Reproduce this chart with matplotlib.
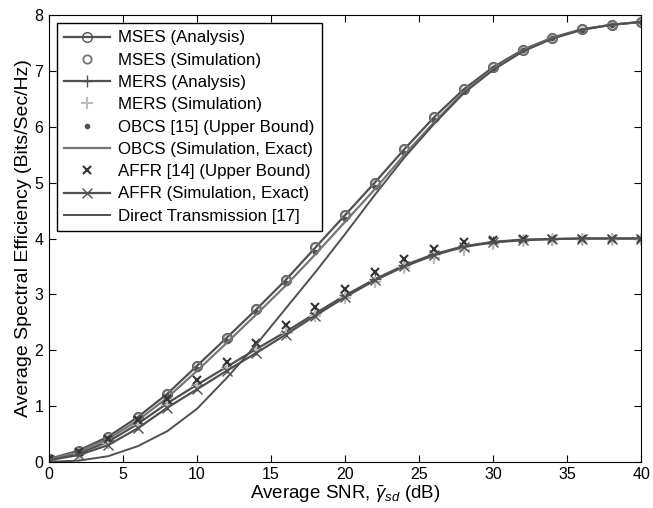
import numpy as np
import matplotlib.pyplot as plt

plt.rcParams['font.family'] = ['Liberation Sans', 'DejaVu Sans']
plt.rcParams['mathtext.fontset'] = 'custom'
plt.rcParams['mathtext.rm'] = 'Liberation Sans'
plt.rcParams['mathtext.it'] = 'Liberation Sans:italic'

# SNR grid (dB)
snr = [0, 2, 4, 6, 8, 10, 12, 14, 16, 18, 20, 22, 24, 26, 28, 30, 32, 34, 36, 38, 40]

# values
mses_ana = [0.05, 0.2, 0.45, 0.8, 1.22, 1.72, 2.22, 2.73, 3.26, 3.84, 4.42, 5.0, 5.6, 6.17, 6.67, 7.07, 7.38, 7.6, 7.75, 7.83, 7.88]
mses_sim = [0.05, 0.2, 0.45, 0.8, 1.22, 1.72, 2.22, 2.73, 3.26, 3.84, 4.42, 5.0, 5.6, 6.17, 6.67, 7.07, 7.38, 7.6, 7.75, 7.83, 7.88]
mers_ana = [0.04, 0.15, 0.36, 0.68, 1.05, 1.38, 1.7, 2.02, 2.33, 2.66, 2.98, 3.27, 3.52, 3.72, 3.86, 3.94, 3.98, 3.99, 4.0, 4.0, 4.0]
mers_sim = [0.04, 0.14, 0.34, 0.66, 1.02, 1.36, 1.68, 2.0, 2.3, 2.62, 2.94, 3.22, 3.47, 3.65, 3.8, 3.9, 3.95, 3.98, 3.99, 4.0, 4.0]
obcs_ub = [0.05, 0.19, 0.43, 0.77, 1.18, 1.67, 2.17, 2.68, 3.2, 3.76, 4.35, 4.93, 5.54, 6.12, 6.64, 7.05, 7.37, 7.59, 7.74, 7.83, 7.88]
obcs_sim = [0.04, 0.18, 0.41, 0.74, 1.15, 1.63, 2.13, 2.64, 3.16, 3.72, 4.3, 4.88, 5.5, 6.08, 6.62, 7.04, 7.36, 7.59, 7.74, 7.83, 7.88]
affr_ub = [0.05, 0.18, 0.4, 0.74, 1.13, 1.46, 1.78, 2.12, 2.45, 2.78, 3.1, 3.4, 3.63, 3.82, 3.93, 3.97, 3.99, 4.0, 4.0, 4.0, 4.0]
affr_sim = [0.03, 0.12, 0.3, 0.6, 0.97, 1.3, 1.63, 1.95, 2.28, 2.62, 2.95, 3.25, 3.5, 3.7, 3.85, 3.93, 3.97, 3.99, 4.0, 4.0, 4.0]
direct = [0.0, 0.02, 0.1, 0.28, 0.55, 0.95, 1.5, 2.1, 2.75, 3.4, 4.08, 4.78, 5.45, 6.05, 6.6, 7.02, 7.35, 7.58, 7.74, 7.83, 7.88]

fig = plt.figure(figsize=(6.53, 5.08), dpi=100)
ax = fig.add_axes([0.075, 0.091, 0.907, 0.879])

dark = '#505050'
mid = '#767676'
light = '#bcbcbc'

ax.plot(snr, mses_ana, '-o', color=dark, mfc='none', ms=7, lw=1.6, label='MSES (Analysis)')
ax.plot(snr, mses_sim, 'o', color=mid, mfc='none', ms=6, mew=1.3, label='MSES (Simulation)')
ax.plot(snr, mers_ana, '-+', color=dark, ms=8, lw=1.6, label='MERS (Analysis)')
ax.plot(snr, mers_sim, '+', color=light, ms=8, mew=1.5, label='MERS (Simulation)')
ax.plot(snr, obcs_ub, '.', color=dark, ms=6, label='OBCS [15] (Upper Bound)')
ax.plot(snr, obcs_sim, '-.', color=mid, ls='-', ms=5, lw=1.6, label='OBCS (Simulation, Exact)')
ax.plot(snr, affr_ub, 'x', color='#333333', ms=6, mew=1.5, label='AFFR [14] (Upper Bound)')
ax.plot(snr, affr_sim, '-x', color=dark, ms=7, lw=1.6, label='AFFR (Simulation, Exact)')
ax.plot(snr, direct, '-', color=dark, lw=1.4, label='Direct Transmission [17]')

ax.set_xlim(0, 40)
ax.set_ylim(0, 8)
ax.set_xticks(range(0, 41, 5))
ax.set_yticks(range(0, 9))
ax.tick_params(direction='in', top=True, right=True, labelsize=11.5, length=5, pad=4)
ax.set_xlabel(r'Average SNR, $\bar{\gamma}_{sd}$ (dB)', fontsize=13.5, labelpad=1)
ax.set_ylabel('Average Spectral Efficiency (Bits/Sec/Hz)', fontsize=14, labelpad=2)

leg = ax.legend(loc='upper left', fontsize=12.2, fancybox=False, edgecolor='black',
                borderaxespad=0.45, handlelength=2.7, labelspacing=0.43, framealpha=1,
                borderpad=0.45, handletextpad=0.5)
leg.get_frame().set_linewidth(1.0)

fig.savefig('out.png', dpi=100)
